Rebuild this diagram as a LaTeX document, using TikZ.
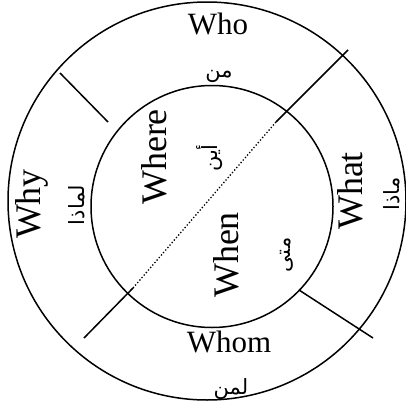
\documentclass[tikz,border=0pt]{standalone}
\usepackage{fontspec}
\setmainfont{Liberation Serif}
\newfontfamily\arabicfont[Script=Arabic]{DejaVu Sans}
\TeXXeTstate=1
\begin{document}
\begin{tikzpicture}[x=1pt,y=-1pt,
  ring/.style={draw,line width=1.5pt,circle,inner sep=0pt},
  seg/.style={line width=1.5pt},
  hword/.style={inner sep=0pt,font=\fontsize{31}{31}\selectfont},
  vword/.style={inner sep=0pt,rotate=90,font=\fontsize{36}{36}\selectfont},
  ar/.style={inner sep=0pt,font=\arabicfont\fontsize{21}{21}\selectfont},
  var/.style={ar,rotate=90}]
\useasboundingbox (0,0) rectangle (406,407);
\node[ring,minimum size=398pt] (outer) at (207,201) {};
\node[ring,minimum size=242pt] (inner) at (212,206.5) {};
% separators
\coordinate (ul1) at (60,73);   \coordinate (ul2) at (108,122);
\coordinate (ur1) at (348,50);  \coordinate (ur2) at (276,122);
\coordinate (ll1) at (84,338);  \coordinate (ll2) at (133,288);
\coordinate (lr1) at (299,290); \coordinate (lr2) at (373,338);
\draw[seg] (ul1) -- (ul2);
\draw[seg] (ur1) -- (ur2);
\draw[seg] (ll1) -- (ll2);
\draw[seg] (lr1) -- (lr2);
\draw[line width=1.3pt,dotted] (ur2) -- (ll2);
% English words
\node[hword] (who) at (218,24) {Who};
\node[hword] (whom) at (229,342) {Whom};
\node[vword] (why) at (32,204) {Why};
\node[vword] (where) at (154,157) {Where};
\node[vword] (when) at (226,255) {When};
\node[vword] (what) at (350,191) {What};
% Arabic words
\node[ar] (min) at (219,76) {\beginR من\endR};
\node[ar] (liman) at (231,389) {\beginR لمن\endR};
\node[var] (limadha) at (77,205) {\beginR لماذا\endR};
\node[var] (madha) at (392,194) {\beginR ماذا\endR};
\node[var] (ayna) at (210,158) {\beginR أين\endR};
\node[var] (mata) at (287,255) {\beginR متى\endR};
\end{tikzpicture}
\end{document}
